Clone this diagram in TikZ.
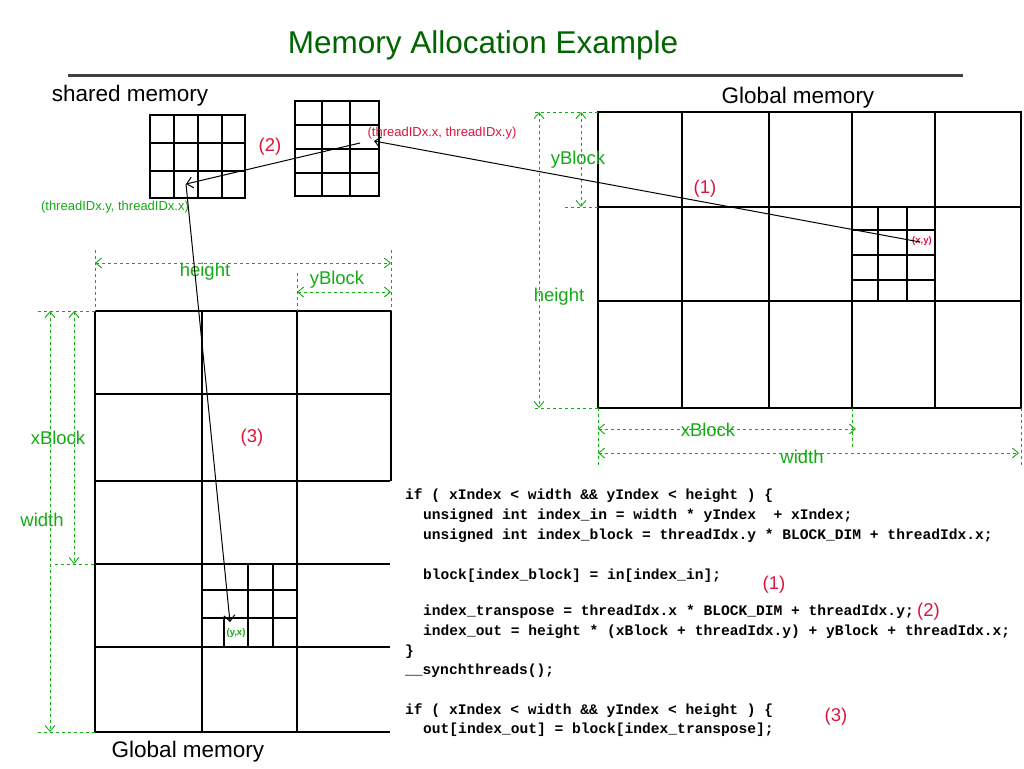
\documentclass[tikz,border=0pt]{standalone}
\usepackage{fontspec}
\setmainfont{Liberation Sans}
\newfontfamily\codefont{Liberation Mono}
\usetikzlibrary{arrows.meta}
\definecolor{dimgreen}{RGB}{20,170,20}
\definecolor{titlegreen}{RGB}{0,100,0}
\definecolor{lblred}{RGB}{220,20,60}
\begin{document}
\begin{tikzpicture}[x=1pt,y=-1pt,
  grid/.style={draw=black,line width=1.1pt},
  dim/.style={draw=dimgreen,dashed,line width=0.9pt,{Straight Barb[length=6pt,width=10pt]}-{Straight Barb[length=6pt,width=10pt]}},
  ext/.style={draw=dimgreen,dashed,line width=0.9pt},
  conn/.style={draw=black,line width=1pt,-{Straight Barb[length=6pt,width=11pt]}},
  dlbl/.style={text=dimgreen,font=\fontsize{18.5}{22}\selectfont,inner sep=0pt},
  rlbl/.style={text=lblred,font=\fontsize{18.5}{22}\selectfont,inner sep=0pt},
  small/.style={font=\fontsize{13}{15}\selectfont,inner sep=0pt},
  tiny/.style={font=\fontsize{9.5}{11}\selectfont\bfseries,inner sep=0pt},
  head/.style={font=\fontsize{22.5}{26}\selectfont,inner sep=0pt},
  code/.style={font=\codefont\bfseries\fontsize{14.6}{16}\selectfont,anchor=west,inner sep=0pt}]
\useasboundingbox (0,0) rectangle (1024,768);
% title
\node[text=titlegreen,font=\fontsize{31.5}{36}\selectfont] (title) at (483,45) {Memory Allocation Example};
\draw[line width=3pt,black!75] (68,75) -- (963,75);
\node[head] (shm) at (130,96) {shared memory};
\node[head] (gmr) at (798,98) {Global memory};
\node[head] (gml) at (188,752) {Global memory};
% shared tiles
\draw[grid] (150,115) rectangle (245,198);
\foreach \x in {174,198,222} \draw[grid] (\x,115) -- (\x,198);
\foreach \y in {143,171} \draw[grid] (150,\y) -- (245,\y);
\draw[grid] (295,101) rectangle (379,196);
\foreach \x in {322,350} \draw[grid] (\x,101) -- (\x,196);
\foreach \y in {125,149,173} \draw[grid] (295,\y) -- (379,\y);
% right global
\draw[grid] (598,112) rectangle (1021,408);
\foreach \x in {682,769,852,935} \draw[grid] (\x,112) -- (\x,408);
\foreach \y in {207,301} \draw[grid] (598,\y) -- (1021,\y);
\foreach \x in {878,907} \draw[grid] (\x,207) -- (\x,301);
\foreach \y in {230,255,280} \draw[grid] (852,\y) -- (935,\y);
% left global
\draw[grid] (95,311) -- (391,311);
\draw[grid] (391,311) -- (391,481);
\foreach \y in {394,481,564,647,732} \draw[grid] (95,\y) -- (390,\y);
\foreach \x in {95,202,297} \draw[grid] (\x,311) -- (\x,732);
\foreach \x in {248,273} \draw[grid] (\x,564) -- (\x,647);
\draw[grid] (224,618) -- (224,647);
\foreach \y in {590,618} \draw[grid] (202,\y) -- (297,\y);
% right dimensions
\draw[ext] (535,112) -- (598,112);
\draw[ext] (565,207) -- (598,207);
\draw[ext] (535,408) -- (598,408);
\draw[dim] (581,112) -- (581,207);
\draw[dim] (539,112) -- (539,408);
\draw[ext] (598,408) -- (598,465);
\draw[ext] (852,408) -- (852,447);
\draw[ext] (1021,408) -- (1021,465);
\draw[dim] (598,429) -- (856,429);
\draw[dim] (598,453) -- (1019,453);
\node[dlbl] (ryb) at (578,160) {yBlock};
\node[dlbl] (rh) at (559,297) {height};
\node[dlbl] (rxb) at (708,430) {xBlock};
\node[dlbl] (rw) at (802,457) {width};
% left dimensions
\draw[ext] (95,250) -- (95,311);
\draw[ext] (391,250) -- (391,311);
\draw[ext] (297,273) -- (297,311);
\draw[dim] (95,263) -- (391,263);
\draw[dim] (297,292) -- (391,292);
\draw[ext] (38,311) -- (95,311);
\draw[ext] (55,564) -- (95,564);
\draw[ext] (38,732) -- (95,732);
\draw[dim] (74,311) -- (74,564);
\draw[dim] (50,311) -- (50,732);
\node[dlbl] (lh) at (205,272) {height};
\node[dlbl] (lyb) at (337,280) {yBlock};
\node[dlbl] (lxb) at (58,438) {xBlock};
\node[dlbl] (lw) at (42,520) {width};
% labels
\node[rlbl] (l2) at (270,147) {(2)};
\node[rlbl] (l1) at (705,189) {(1)};
\node[rlbl] (l3) at (252,438) {(3)};
\node[small,text=lblred] (txy) at (442,133) {(threadIDx.x, threadIDx.y)};
\node[small,text=dimgreen] (tyx) at (115,207) {(threadIDx.y, threadIDx.x)};
\node[tiny,text=lblred] (xy) at (922,241) {(x,y)};
\node[tiny,text=dimgreen] (yx) at (236,633) {(y,x)};
% connectors
\coordinate (p1) at (920,242);
\coordinate (p2) at (374,141);
\coordinate (p3) at (360,143);
\coordinate (p4) at (186,184);
\coordinate (p5) at (230,622);
\draw[conn] (p1) -- (p2);
\draw[conn] (p3) -- (p4);
\draw[conn] (p4) -- (p5);
% code
\node[code] (c1) at (405,496) {if ( xIndex < width \&\& yIndex < height ) \{};
\node[code] (c2) at (423,516) {unsigned int index\_in = width * yIndex \ + xIndex;};
\node[code] (c3) at (423,536) {unsigned int index\_block = threadIdx.y * BLOCK\_DIM + threadIdx.x;};
\node[code] (c4) at (423,576) {block[index\_block] = in[index\_in];};
\node[code] (c5) at (423,612) {index\_transpose = threadIdx.x * BLOCK\_DIM + threadIdx.y;};
\node[code] (c6) at (423,632) {index\_out = height * (xBlock + threadIdx.y) + yBlock + threadIdx.x;};
\node[code] (c7) at (405,652) {\}};
\node[code] (c8) at (405,671) {\_\_synchthreads();};
\node[code] (c9) at (405,711) {if ( xIndex < width \&\& yIndex < height ) \{};
\node[code] (c10) at (423,730) {out[index\_out] = block[index\_transpose];};
\node[rlbl] (k1) at (774,585) {(1)};
\node[rlbl,anchor=west] (k2) at (917,612) {(2)};
\node[rlbl] (k3) at (836,717) {(3)};
\end{tikzpicture}
\end{document}
